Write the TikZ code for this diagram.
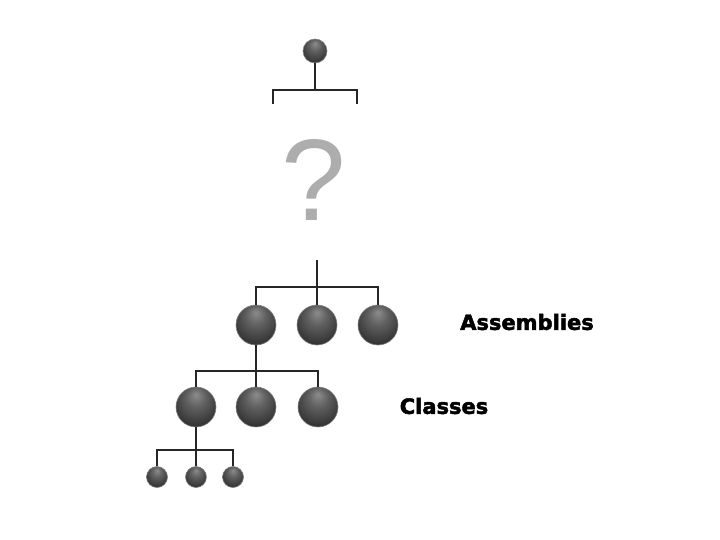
\documentclass[tikz,border=0pt]{standalone}
\usepackage{fontspec}
\usetikzlibrary{positioning}
\newfontfamily\lblfont[BoldFeatures={FakeBold=2.2}]{DejaVu Sans}
\newfontfamily\qfont{Liberation Sans}
\pgfdeclareradialshading{orb}{\pgfpoint{0bp}{16bp}}{color(0bp)=(black!45); color(12bp)=(black!62); color(32bp)=(black!82); color(50bp)=(black!92)}

\begin{document}
\begin{tikzpicture}[x=1pt,y=-1pt,
  bl/.style={circle,shading=orb,draw=black!50,line width=0.6pt,minimum size=40pt,inner sep=0pt},
  sm/.style={bl,minimum size=21pt},
  ln/.style={line width=1.1pt,black!85},
  lb/.style={font=\lblfont\bfseries\fontsize{21}{25}\selectfont}]
  \useasboundingbox (0,0) rectangle (720,540);
  % top of the tree
  \node[bl,minimum size=24pt] (r) at (315,51) {};
  \coordinate (tj) at (315,90);
  \coordinate (tl) at (273,104);
  \coordinate (tr) at (357,104);
  \draw[ln] (r) -- (tj);
  \draw[ln] (tl) -- (tl |- tj) -- (tr |- tj) -- (tr);
  \node[font=\qfont\fontsize{116}{120}\selectfont,text=black!32,inner sep=0pt] (q) at (314,180) {?};
  % assemblies
  \node[bl] (a1) at (256,325) {};
  \node[bl] (a2) at (317,325) {};
  \node[bl] (a3) at (378,325) {};
  \coordinate (qa) at (317,260);
  \coordinate (aj) at (317,287);
  \draw[ln] (qa) -- (a2);
  \draw[ln] (a1) |- (aj) -| (a3);
  \node[lb] (asm) at (527,322) {Assemblies};
  % classes
  \node[bl] (c1) at (196,407) {};
  \node[bl] (c2) at (256,407) {};
  \node[bl] (c3) at (318,407) {};
  \coordinate (cj) at (256,371);
  \draw[ln] (a1) -- (c2);
  \draw[ln] (c1) |- (cj) -| (c3);
  \node[lb] (cls) at (444,406) {Classes};
  % members
  \node[sm] (s1) at (157,477) {};
  \node[sm] (s2) at (196,477) {};
  \node[sm] (s3) at (233,477) {};
  \coordinate (sj) at (196,450);
  \draw[ln] (c1) -- (s2);
  \draw[ln] (s1) |- (sj) -| (s3);
\end{tikzpicture}
\end{document}
